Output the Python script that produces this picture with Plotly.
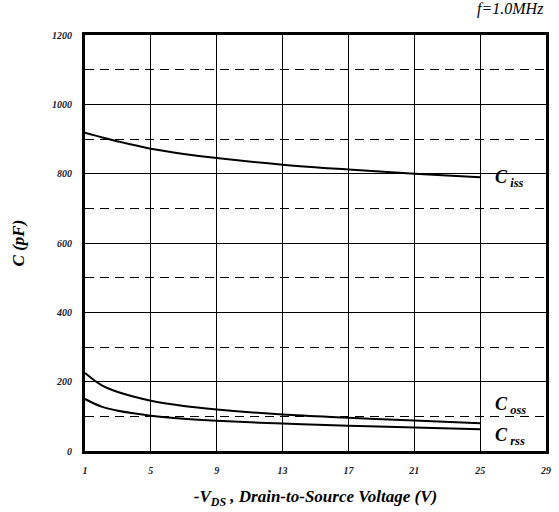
import plotly.graph_objects as go

vds = [1, 2, 3, 5, 7, 9, 13, 17, 21, 25]
ciss = [918, 905, 893, 872, 857, 845, 826, 812, 800, 790]
coss = [225, 190, 170, 145, 130, 120, 105, 96, 88, 80]
crss = [150, 128, 116, 102, 93, 87, 79, 73, 68, 63]

x_ticks = [1, 5, 9, 13, 17, 21, 25, 29]
y_ticks = [0, 200, 400, 600, 800, 1000, 1200]

SERIF = "Liberation Serif"

fig = go.Figure()
for ys in (ciss, coss, crss):
    fig.add_trace(go.Scatter(x=vds, y=ys, mode="lines",
                             line=dict(color="black", width=2, shape="spline", smoothing=1.0),
                             showlegend=False, hoverinfo="skip"))

fig.update_layout(
    width=559, height=512,
    margin=dict(l=85, r=8, t=35, b=60),
    paper_bgcolor="white", plot_bgcolor="white",
    font=dict(family=SERIF, color="black"),
    xaxis=dict(range=[1, 29], tickvals=x_ticks, ticktext=[f"<b><i>{v}</i></b>" for v in x_ticks],
               showgrid=True, gridcolor="black", gridwidth=1,
               showline=True, linecolor="black", linewidth=3, mirror=True,
               zeroline=False, ticks="", ticklabelstandoff=8,
               tickfont=dict(size=10, family=SERIF, color="#1a1a2e"),
               title=dict(text="<b><i>-V<sub>DS</sub> , Drain-to-Source Voltage (V)</i></b>",
                          font=dict(size=17, family=SERIF), standoff=16)),
    yaxis=dict(range=[0, 1200], tickvals=y_ticks, ticktext=[f"<b><i>{v}</i></b>" for v in y_ticks],
               showgrid=True, gridcolor="black", gridwidth=1,
               minor=dict(dtick=100, tick0=0, showgrid=True, gridcolor="black", gridwidth=1,
                          griddash="9px,6px"),
               showline=True, linecolor="black", linewidth=3, mirror=True,
               zeroline=False, ticks="", ticklabelstandoff=8,
               tickfont=dict(size=10, family=SERIF, color="#1a1a2e"),
               title=dict(text="<b><i>C (pF)</i></b>", font=dict(size=17, family=SERIF), standoff=24)),
    annotations=[
        dict(x=1, xref="paper", y=1.035, yref="paper", xanchor="right", yanchor="bottom",
             text="<i>f=1.0MHz</i>", showarrow=False, font=dict(size=16, family=SERIF)),
        dict(x=25.8, y=785, xanchor="left", yanchor="middle", showarrow=False,
             text="<b><i>C<sub> iss</sub></i></b>", font=dict(size=18, family=SERIF)),
        dict(x=25.8, y=130, xanchor="left", yanchor="middle", showarrow=False,
             text="<b><i>C<sub> oss</sub></i></b>", font=dict(size=18, family=SERIF)),
        dict(x=25.8, y=42, xanchor="left", yanchor="middle", showarrow=False,
             text="<b><i>C<sub> rss</sub></i></b>", font=dict(size=18, family=SERIF)),
    ],
)

fig.write_html("out.html")
